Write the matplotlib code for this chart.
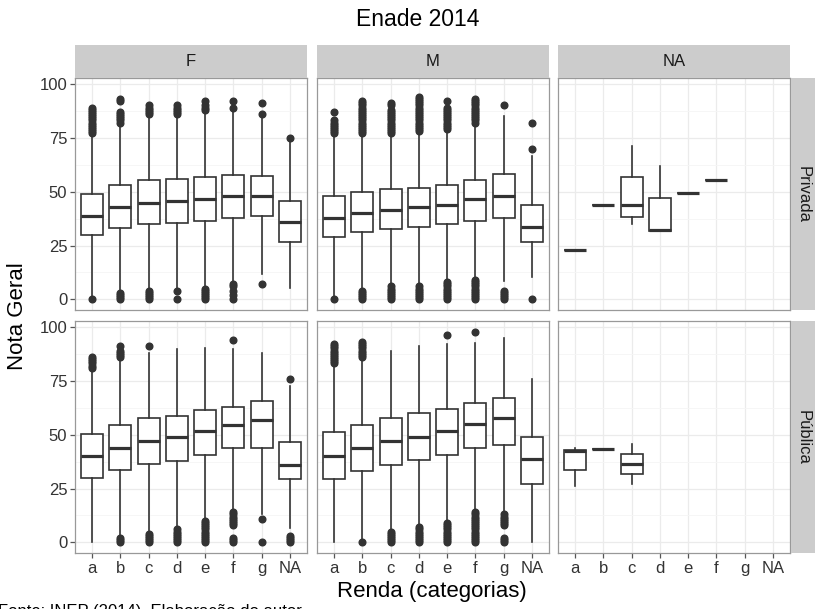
import matplotlib
matplotlib.use("Agg")
import matplotlib.pyplot as plt

plt.rcParams['font.family'] = ['Liberation Sans', 'DejaVu Sans']

renda = ['a', 'b', 'c', 'd', 'e', 'f', 'g', 'NA']
sexo = ['F', 'M', 'NA']
categoria = ['Privada', 'Pública']

# caixas: (limite inferior, Q1, mediana, Q3, limite superior)
priv_f = [(1, 29.7, 38.6, 48.7, 76), (4.5, 33, 42.8, 53, 81), (5, 34.8, 44.5, 55.2, 85),
          (5, 35.5, 45.6, 56, 85.5), (6, 36.5, 46.7, 56.9, 87), (8, 37.6, 47.9, 57.6, 87),
          (12, 38.6, 47.9, 57.2, 84), (5.5, 26.7, 35.9, 45.6, 73)]
priv_m = [(1, 28.9, 37.9, 48.2, 75.5), (4.5, 31.2, 40.2, 49.8, 76.5), (6, 32.5, 41.4, 51, 76.5),
          (6.5, 33.7, 42.8, 51.8, 77), (9, 35.1, 43.7, 53, 78.5), (10, 36.6, 46.4, 55.2, 81.5),
          (8.5, 37.9, 47.9, 58.3, 85), (10.5, 26.6, 33.5, 43.6, 66.5)]
priv_na = [(22.7, 22.7, 22.7, 22.7, 22.7), (44, 44, 44, 44, 44), (35, 38.1, 44, 56.8, 71.2),
           (31.7, 31.7, 32, 47.2, 62), (49.3, 49.3, 49.3, 49.3, 49.3), (55.4, 55.4, 55.4, 55.4, 55.4),
           None, None]
pub_f = [(0, 30.1, 39.9, 50.2, 79.6), (3.5, 33.5, 44, 54.4, 84.5), (5, 36.3, 47.1, 57.7, 88),
         (7, 37.9, 49, 58.7, 89.6), (11, 40.6, 51.5, 61.4, 90), (15, 44, 54.6, 63, 89.6),
         (13, 44, 56.7, 65.4, 88), (6.6, 29.4, 36, 46.7, 72.6)]
pub_m = [(0, 29.4, 39.9, 51, 82), (1.5, 32.9, 44, 54.6, 85.8), (6, 35.9, 47.1, 57.7, 88.9),
         (8, 38.3, 49.1, 59.8, 91.2), (10, 40.5, 51.5, 61.8, 92), (15, 44, 54.9, 64.8, 92.7),
         (14, 45.3, 57.5, 66.9, 95), (0, 27, 38.6, 49.1, 75.7)]
pub_na = [(26.3, 33.8, 42.4, 43, 43.9), (43.2, 43.2, 43.2, 43.2, 43.2), (27.1, 31.6, 36.4, 41.1, 45.6),
          None, None, None, None, None]

# outliers
priv_f_out = [[0, 77, 78, 79, 80, 81, 82, 83, 84, 85, 86, 87, 88, 89],
              [0, 1, 2, 3, 82, 83, 84, 85, 86, 87, 92, 93],
              [0, 1, 2, 3, 4, 86, 87, 88, 89, 90],
              [0, 4, 86, 87, 88, 89, 90],
              [0, 1, 2, 3, 4, 5, 88, 89, 90, 92],
              [0, 2, 4, 6, 7, 89, 92],
              [7, 86, 91],
              [75]]
priv_m_out = [[0, 77, 78, 79, 80, 81, 82, 83, 87],
              [0, 1, 2, 3, 4, 77, 78, 79, 80, 81, 82, 83, 84, 85, 86, 87, 88, 89, 90, 91, 92],
              [0, 1, 2, 3, 4, 5, 6, 77, 78, 79, 80, 81, 82, 83, 84, 85, 86, 87, 88, 90, 91],
              [0, 1, 2, 3, 4, 5, 6, 78, 79, 80, 81, 82, 83, 84, 85, 86, 87, 88, 89, 90, 91, 92, 93, 94],
              [0, 1, 2, 3, 4, 5, 6, 7, 8, 79, 80, 81, 82, 83, 84, 85, 86, 87, 88, 89, 92],
              [0, 1, 2, 3, 4, 5, 6, 7, 8, 9, 82, 83, 84, 85, 86, 87, 88, 89, 90, 91, 92, 93],
              [0, 1, 2, 3, 4, 90],
              [0, 70, 82]]
priv_na_out = [[], [], [], [], [], [], [], []]
pub_f_out = [[81, 82, 83, 84, 85, 86],
             [0, 1, 2, 86, 87, 88, 89, 91],
             [0, 1, 2, 3, 4, 91],
             [0, 1, 2, 3, 4, 5, 6],
             [0, 1, 2, 3, 4, 5, 6, 7, 8, 9, 10],
             [0, 1, 2, 8, 9, 10, 11, 12, 13, 14, 94],
             [0, 11],
             [0, 1, 2, 3, 76]]
pub_m_out = [[83, 84, 85, 86, 87, 88, 89, 90, 91, 92],
             [0, 86, 87, 88, 89, 90, 91, 92, 93],
             [0, 1, 2, 3, 4, 5],
             [0, 1, 2, 3, 4, 5, 6, 7],
             [0, 1, 2, 3, 4, 5, 6, 7, 8, 9, 96],
             [0, 1, 2, 3, 4, 5, 6, 7, 8, 9, 10, 11, 12, 13, 14, 97.6],
             [0, 1, 2, 8, 9, 10, 11, 12, 13],
             []]
pub_na_out = [[], [], [], [], [], [], [], []]

caixas = [[priv_f, priv_m, priv_na], [pub_f, pub_m, pub_na]]
outliers = [[priv_f_out, priv_m_out, priv_na_out], [pub_f_out, pub_m_out, pub_na_out]]

W, H = 815, 609
fig = plt.figure(figsize=(W / 100, H / 100), dpi=100)


def eixo(x, y, w, h):
    # posição em pixels (origem no topo) -> fração da figura
    return fig.add_axes([x / W, 1 - (y + h) / H, w / W, h / H])


col_x = [75, 317, 558]
lin_y = [78, 321]
pw, ph = 232, 232
escuro = '#333333'

for i in range(2):
    for j in range(3):
        ax = eixo(col_x[j], lin_y[i], pw, ph)
        ax.set_facecolor('white')
        stats = []
        pos = []
        for k, c in enumerate(caixas[i][j]):
            if c is None:
                continue
            lo, q1, med, q3, hi = c
            stats.append(dict(whislo=lo, q1=q1, med=med, q3=q3, whishi=hi,
                              fliers=outliers[i][j][k]))
            pos.append(k + 1)
        ax.bxp(stats, positions=pos, widths=0.78, patch_artist=True, showcaps=False,
               boxprops=dict(facecolor='white', edgecolor=escuro, lw=1.2),
               medianprops=dict(color=escuro, lw=2.3, solid_capstyle='butt'),
               whiskerprops=dict(color=escuro, lw=1.2),
               flierprops=dict(marker='o', markerfacecolor=escuro, markeredgecolor=escuro,
                               markersize=4.8, linestyle='none'),
               zorder=3)
        ax.set_xlim(0.4, 8.6)
        ax.set_ylim(-4.9, 102.7)
        ax.set_xticks(range(1, 9))
        ax.set_yticks([0, 25, 50, 75, 100])
        ax.set_yticks([12.5, 37.5, 62.5, 87.5], minor=True)
        ax.grid(True, which='major', color='#EBEBEB', lw=0.9, zorder=0)
        ax.grid(True, which='minor', axis='y', color='#F5F5F5', lw=0.6, zorder=0)
        ax.set_axisbelow(True)
        for s in ax.spines.values():
            s.set_color('#999999')
            s.set_linewidth(0.9)
        ax.tick_params(which='minor', length=0)
        ax.tick_params(which='major', length=3.5, width=0.9, color='#555555',
                       labelsize=12, labelcolor='#333333', pad=2)
        if i == 1:
            ax.set_xticklabels(renda)
        else:
            ax.set_xticklabels([])
            ax.tick_params(axis='x', length=0)
        if j == 0:
            ax.set_yticklabels(['0', '25', '50', '75', '100'])
        else:
            ax.set_yticklabels([])
            ax.tick_params(axis='y', length=0)

# faixas superiores
for j in range(3):
    st = eixo(col_x[j], 45, pw, 33)
    st.set_facecolor('#CCCCCC')
    st.set_xticks([])
    st.set_yticks([])
    for s in st.spines.values():
        s.set_visible(False)
    st.text(0.5, 0.5, sexo[j], ha='center', va='center', fontsize=12, color='#1A1A1A',
            transform=st.transAxes)

# faixas laterais
for i in range(2):
    st = eixo(791, lin_y[i], 26, ph)
    st.set_facecolor('#CCCCCC')
    st.set_xticks([])
    st.set_yticks([])
    for s in st.spines.values():
        s.set_visible(False)
    st.text(0.45, 0.5, categoria[i], ha='center', va='center', fontsize=12, color='#1A1A1A',
            rotation=-90, transform=st.transAxes)

fig.text(418 / W, 1 - 20 / H, 'Enade 2014', ha='center', va='center', fontsize=16.5)
fig.text(432 / W, 1 - 592 / H, 'Renda (categorias)', ha='center', va='center', fontsize=16)
fig.text(18 / W, 1 - 316 / H, 'Nota Geral', ha='center', va='center', fontsize=16, rotation=90)
fig.text(-2 / W, 1 - 604 / H, 'Fonte: INEP (2014). Elaboração do autor.', ha='left', va='top',
         fontsize=12)

fig.savefig('out.png', dpi=100)
